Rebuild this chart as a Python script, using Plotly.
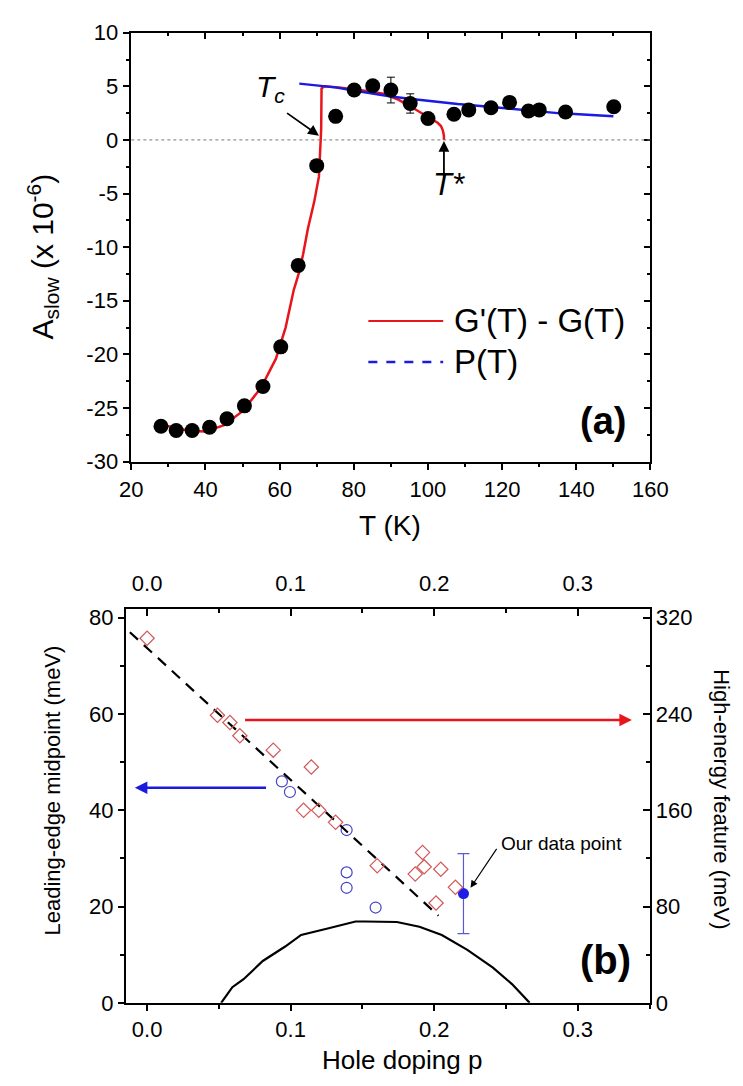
import plotly.graph_objects as go

# ---------------- Panel (a) data ----------------
T_data = [28.0, 32.1, 36.4, 41.1, 45.8, 50.5, 55.5, 60.3, 65.0, 70.0, 75.1, 80.1, 85.1, 90.0, 95.2, 100.0,
          107.0, 111.0, 117.0, 122.0, 127.1, 130.0, 137.1, 150.1]
A_data = [-26.7, -27.1, -27.1, -26.8, -26.0, -24.8, -23.0, -19.3, -11.7, -2.4, 2.2, 4.65, 5.05, 4.65, 3.4, 2.0,
          2.4, 2.8, 3.0, 3.5, 2.7, 2.8, 2.6, 3.1]
A_err = [0, 0, 0, 0, 0, 0, 0, 0, 0, 0, 0, 0.5, 0, 1.2, 0.9, 0,
         0, 0, 0, 0, 0, 0, 0, 0]

T_fit = [28, 32, 36, 40, 45, 50, 55, 59, 61.6, 63.8, 65.2, 66.3, 67.6, 69.3, 70.6, 71.0, 71.2, 71.3, 72,
         76, 80, 84, 88, 90, 92, 94.4, 96.5, 98.7, 100.8, 102.6, 103.5, 104.0, 104.3, 104.3]
G_fit = [-26.5, -26.9, -27.15, -27.2, -26.6, -25.3, -23.1, -20.4, -17.5, -14.0, -12.4, -10.7, -8.3, -5.8, -3.4,
         -1.0, 1.0, 4.8, 5.0, 4.9, 4.75, 4.55, 4.3, 4.05, 3.75, 3.3, 2.85, 2.4, 2.0, 1.6, 1.3, 0.9, 0.4, 0.0]

T_P = [65.3, 70, 75, 80, 85, 90, 95, 100, 108, 118, 127, 135, 143, 150]
P_fit = [5.25, 5.1, 4.9, 4.6, 4.3, 4.05, 3.85, 3.65, 3.35, 3.05, 2.75, 2.5, 2.35, 2.2]

A_tickvals = [-30, -25, -20, -15, -10, -5, 0, 5, 10]
A_ticktext = ["-30", "-25", "-20", "-15", "-10", "-5", "0", "5", "10"]

# ---------------- Panel (b) data ----------------
p_diam = [0.0, 0.049, 0.0577, 0.0646, 0.0879, 0.1144, 0.109, 0.1196, 0.1313, 0.1603,
          0.1919, 0.1868, 0.193, 0.2046, 0.2013, 0.2148]
E_diam = [303, 239, 233, 222, 210, 196, 160, 160, 150, 114,
          125, 107, 113, 111, 83, 96]  # high-energy feature (meV, right axis)

p_circ = [0.0939, 0.0995, 0.139, 0.139, 0.139, 0.1592]
E_circ = [46.0, 43.8, 35.9, 27.1, 23.9, 19.8]  # leading-edge midpoint (meV, left axis)

p_ours = [0.2204]
E_ours = [22.7]
E_ours_err = [8.3]

p_dash = [-0.012, 0.203]
E_dash = [308, 72.4]

p_dome = [0.0516, 0.0594, 0.0672, 0.0806, 0.0962, 0.1073, 0.1251, 0.1452, 0.1518, 0.174, 0.1897,
          0.2053, 0.2231, 0.2409, 0.2542, 0.2665]
E_dome = [0, 3.25, 4.9, 8.7, 11.7, 14.1, 15.4, 16.9, 16.9, 16.8, 15.8, 14.1, 11.0, 7.3, 3.9, 0]

FONT = "Arial, Liberation Sans, sans-serif"
RED = "#e8161b"
BLUE = "#1a1ae0"
TF = 22  # tick font size

fig = go.Figure()

# Panel (a)
fig.add_trace(go.Scatter(x=T_fit, y=G_fit, mode="lines", line=dict(color=RED, width=2.5),
                         xaxis="x", yaxis="y", showlegend=False))
fig.add_trace(go.Scatter(x=T_P, y=P_fit, mode="lines", line=dict(color=BLUE, width=2.5),
                         xaxis="x", yaxis="y", showlegend=False))
fig.add_trace(go.Scatter(x=T_data, y=A_data, mode="markers",
                         marker=dict(color="black", size=15),
                         error_y=dict(type="data", array=A_err, color="black", thickness=1, width=4),
                         xaxis="x", yaxis="y", showlegend=False))
# invisible helper trace so mirrored (top/right) axes get drawn
fig.add_trace(go.Scatter(x=[30], y=[-20], mode="markers", marker=dict(opacity=0), hoverinfo="skip",
                         xaxis="x3", yaxis="y3", showlegend=False))

# Panel (b)
fig.add_trace(go.Scatter(x=p_dome, y=E_dome, mode="lines", line=dict(color="black", width=2.2),
                         xaxis="x2", yaxis="y2", showlegend=False))
fig.add_trace(go.Scatter(x=p_circ, y=E_circ, mode="markers",
                         marker=dict(symbol="circle-open", size=11, color="#4646c8", line=dict(width=1.2)),
                         xaxis="x2", yaxis="y2", showlegend=False))
fig.add_trace(go.Scatter(x=p_ours, y=E_ours, mode="markers",
                         marker=dict(symbol="circle", size=11, color="#1e1ee6"),
                         error_y=dict(type="data", array=E_ours_err, color="#5a5ad2", thickness=1.2, width=6),
                         xaxis="x2", yaxis="y2", showlegend=False))
fig.add_trace(go.Scatter(x=p_dash, y=E_dash, mode="lines",
                         line=dict(color="black", width=2.2, dash="11px,8px"),
                         xaxis="x2", yaxis="y4", showlegend=False))
fig.add_trace(go.Scatter(x=p_diam, y=E_diam, mode="markers",
                         marker=dict(symbol="diamond-open", size=11, color="#d05858", line=dict(width=1.2)),
                         xaxis="x2", yaxis="y4", showlegend=False))
fig.add_trace(go.Scatter(x=[0.3], y=[60], mode="markers", marker=dict(opacity=0), hoverinfo="skip",
                         xaxis="x4", yaxis="y2", showlegend=False))

def axstyle(size=None, **kw):
    d = dict(showline=True, linecolor="black", linewidth=1.5, showgrid=False, zeroline=False,
             tickcolor="black", tickwidth=1.5)
    if size:
        d["tickfont"] = dict(family=FONT, color="black", size=size)
    d.update(kw)
    return d

def minor(dt, where):
    return dict(dtick=dt, ticks=where, ticklen=4, tickcolor="black", tickwidth=1.5)

fig.update_layout(
    width=743, height=1086,
    margin=dict(l=0, r=0, t=0, b=0),
    paper_bgcolor="white", plot_bgcolor="white",
    font=dict(family=FONT, color="black"),
    showlegend=False,
    xaxis=axstyle(TF, domain=[116/743, 657/743], range=[20, 160], anchor="y", side="bottom",
                  ticks="outside", ticklen=7, dtick=20, tick0=0, minor=minor(10, "outside")),
    yaxis=axstyle(TF, domain=[1 - 452/1086, 1 - 13/1086], range=[-30, 10], anchor="x",
                  ticks="outside", ticklen=7, tickvals=A_tickvals, ticktext=A_ticktext,
                  minor=minor(2.5, "outside")),
    xaxis3=axstyle(None, overlaying="x", side="top", anchor="y", range=[20, 160], ticks="inside", ticklen=7,
                   dtick=20, tick0=0, showticklabels=False, minor=minor(10, "inside")),
    yaxis3=axstyle(None, overlaying="y", side="right", anchor="x3", range=[-30, 10], ticks="inside", ticklen=7,
                   dtick=5, tick0=0, showticklabels=False, minor=minor(2.5, "inside")),
    xaxis2=axstyle(TF, domain=[110/743, 656/743], range=[-0.015, 0.35], anchor="y2", side="bottom",
                   ticks="outside", ticklen=6, dtick=0.1, tick0=0, tickformat=".1f",
                   minor=minor(0.05, "outside")),
    yaxis2=axstyle(TF, domain=[1 - 1006/1086, 1 - 603/1086], range=[0, 81.8], anchor="x2",
                   ticks="outside", ticklen=6, dtick=20, tick0=0, minor=minor(10, "outside")),
    xaxis4=axstyle(TF, overlaying="x2", side="top", anchor="y2", range=[-0.015, 0.35], ticks="inside",
                   ticklen=7, dtick=0.1, tick0=0, tickformat=".1f", minor=minor(0.05, "inside"),
                   ticklabelstandoff=8),
    yaxis4=axstyle(TF, overlaying="y2", side="right", anchor="x2", range=[0, 327.2], ticks="inside",
                   ticklen=7, dtick=80, tick0=0, minor=minor(40, "inside")),
)

# zero reference line (dotted)
fig.add_shape(type="line", xref="x domain", yref="y", x0=0, x1=1, y0=0, y1=0,
              line=dict(color="#777", width=1, dash="dot"))

# legend drawn manually (panel a)
fig.add_shape(type="line", xref="paper", yref="paper", x0=363/743, x1=441/743,
              y0=1 - 308/1086, y1=1 - 308/1086, line=dict(color=RED, width=2))
fig.add_shape(type="line", xref="paper", yref="paper", x0=363/743, x1=441/743,
              y0=1 - 350/1086, y1=1 - 350/1086, line=dict(color=BLUE, width=2.5, dash="dash"))

ann = []
ann.append(dict(text="G'(T) - G(T)", xref="paper", yref="paper", x=450/743, y=1 - 308/1086,
                xanchor="left", yanchor="middle", showarrow=False, font=dict(size=33)))
ann.append(dict(text="P(T)", xref="paper", yref="paper", x=450/743, y=1 - 350/1086,
                xanchor="left", yanchor="middle", showarrow=False, font=dict(size=33)))
ann.append(dict(text="<b>(a)</b>", xref="paper", yref="paper", x=608/743, y=1 - 410/1086,
                xanchor="center", yanchor="middle", showarrow=False, font=dict(size=38)))
ann.append(dict(text="<b>(b)</b>", xref="paper", yref="paper", x=610/743, y=1 - 962/1086,
                xanchor="center", yanchor="middle", showarrow=False, font=dict(size=40)))

# axis titles
ann.append(dict(text="A<sub>slow</sub> (x 10<sup>-6</sup>)", xref="paper", yref="paper",
                x=24/743, y=1 - 242/1086, textangle=-90, showarrow=False, font=dict(size=30),
                xanchor="center", yanchor="middle"))
ann.append(dict(text="T (K)", xref="paper", yref="paper", x=386/743, y=1 - 517/1086,
                showarrow=False, font=dict(size=28), xanchor="center", yanchor="middle"))
ann.append(dict(text="Leading-edge midpoint (meV)", xref="paper", yref="paper",
                x=34/743, y=1 - 789/1086, textangle=-90, showarrow=False, font=dict(size=22),
                xanchor="center", yanchor="middle"))
ann.append(dict(text="High-energy feature (meV)", xref="paper", yref="paper",
                x=731/743, y=1 - 798/1086, textangle=90, showarrow=False, font=dict(size=22),
                xanchor="center", yanchor="middle"))
ann.append(dict(text="Hole doping p", xref="paper", yref="paper", x=398/743, y=1 - 1064/1086,
                showarrow=False, font=dict(size=26), xanchor="center", yanchor="middle"))

# panel (a) labels and arrows
ann.append(dict(text="<i>T<sub>c</sub></i>", xref="x", yref="y", x=57.5, y=4.8, showarrow=False,
                font=dict(size=30), xanchor="center", yanchor="middle"))
ann.append(dict(text="", xref="x", yref="y", x=70.6, y=0.4, axref="x", ayref="y", ax=61.6, ay=2.6,
                showarrow=True, arrowhead=2, arrowsize=1.2, arrowwidth=1.8, arrowcolor="black", standoff=0))
ann.append(dict(text="<i>T*</i>", xref="x", yref="y", x=105.7, y=-4.2, showarrow=False,
                font=dict(size=31), xanchor="center", yanchor="middle"))
ann.append(dict(text="", xref="x", yref="y", x=104.3, y=-0.1, axref="x", ayref="y", ax=104.3, ay=-3.8,
                showarrow=True, arrowhead=2, arrowsize=1.2, arrowwidth=1.8, arrowcolor="black", standoff=0))

# panel (b) arrows and labels
ann.append(dict(text="", xref="x2", yref="y4", x=0.3377, y=235, axref="x2", ayref="y4", ax=0.0672, ay=235,
                showarrow=True, arrowhead=2, arrowsize=1, arrowwidth=2.5, arrowcolor=RED, standoff=0))
ann.append(dict(text="", xref="x2", yref="y2", x=-0.0085, y=44.7, axref="x2", ayref="y2", ax=0.0839, ay=44.7,
                showarrow=True, arrowhead=2, arrowsize=1, arrowwidth=2.5, arrowcolor=BLUE, standoff=0))
ann.append(dict(text="Our data point", xref="x2", yref="y2", x=0.2888, y=33.1, showarrow=False,
                font=dict(size=19), xanchor="center", yanchor="middle"))
ann.append(dict(text="", xref="x2", yref="y2", x=0.2253, y=23.9, axref="x2", ayref="y2", ax=0.2442, ay=32.3,
                showarrow=True, arrowhead=2, arrowsize=1.2, arrowwidth=1.2, arrowcolor="black", standoff=0))

fig.update_layout(annotations=ann)

fig.write_html("out.html")
